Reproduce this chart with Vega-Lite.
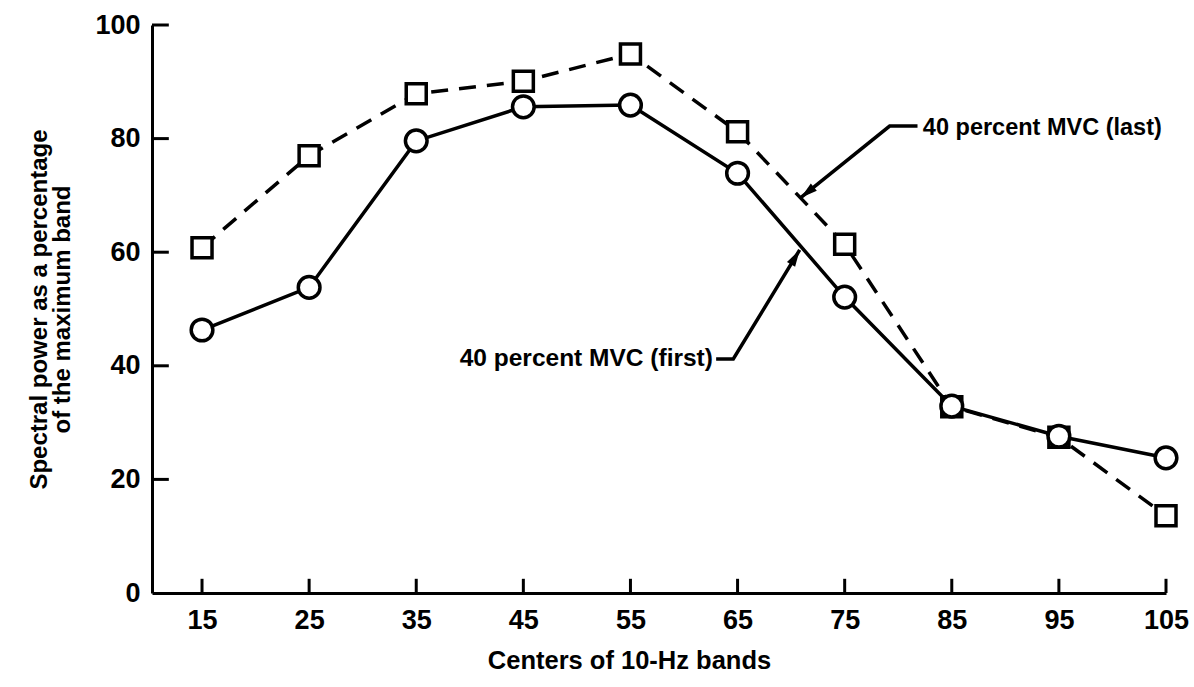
{
  "$schema": "https://vega.github.io/schema/vega-lite/v6.json",
  "width": 1014,
  "height": 568,
  "autosize": {"type": "none"},
  "padding": {"left": 152, "top": 25, "right": 28, "bottom": 94},
  "background": "white",
  "config": {
    "view": {"stroke": null},
    "font": "Liberation Sans",
    "axis": {
      "domainColor": "black",
      "domainWidth": 3,
      "ticks": false,
      "tickSize": 0,
      "grid": false,
      "labelColor": "black",
      "labelFont": "Liberation Sans",
      "labelFontWeight": "bold",
      "labelFontSize": 27,
      "titleColor": "black",
      "titleFont": "Liberation Sans",
      "titleFontWeight": "bold"
    }
  },
  "datasets": {
    "spectra": [
      {"band": 15, "pct": 46.3, "run": "first"},
      {"band": 25, "pct": 53.8, "run": "first"},
      {"band": 35, "pct": 79.6, "run": "first"},
      {"band": 45, "pct": 85.6, "run": "first"},
      {"band": 55, "pct": 85.9, "run": "first"},
      {"band": 65, "pct": 73.9, "run": "first"},
      {"band": 75, "pct": 52.1, "run": "first"},
      {"band": 85, "pct": 32.9, "run": "first"},
      {"band": 95, "pct": 27.6, "run": "first"},
      {"band": 105, "pct": 23.8, "run": "first"},
      {"band": 15, "pct": 60.8, "run": "last"},
      {"band": 25, "pct": 77.0, "run": "last"},
      {"band": 35, "pct": 87.9, "run": "last"},
      {"band": 45, "pct": 90.1, "run": "last"},
      {"band": 55, "pct": 94.9, "run": "last"},
      {"band": 65, "pct": 81.2, "run": "last"},
      {"band": 75, "pct": 61.4, "run": "last"},
      {"band": 85, "pct": 32.8, "run": "last"},
      {"band": 95, "pct": 27.4, "run": "last"},
      {"band": 105, "pct": 13.6, "run": "last"}
    ],
    "xticks": [
      {"band": 15, "pct": 0}, {"band": 25, "pct": 0}, {"band": 35, "pct": 0},
      {"band": 45, "pct": 0}, {"band": 55, "pct": 0}, {"band": 65, "pct": 0},
      {"band": 75, "pct": 0}, {"band": 85, "pct": 0}, {"band": 95, "pct": 0},
      {"band": 105, "pct": 0}
    ],
    "yticks": [
      {"band": 10.33, "pct": 20}, {"band": 10.33, "pct": 40}, {"band": 10.33, "pct": 60},
      {"band": 10.33, "pct": 80}, {"band": 10.33, "pct": 100}
    ],
    "leaders": [
      {"run": "last", "step": 1, "band": 81.8, "pct": 82.2},
      {"run": "last", "step": 2, "band": 79.2, "pct": 82.2},
      {"run": "last", "step": 3, "band": 70.9, "pct": 69.6},
      {"run": "first", "step": 1, "band": 63.0, "pct": 41.2},
      {"run": "first", "step": 2, "band": 64.6, "pct": 41.2},
      {"run": "first", "step": 3, "band": 70.8, "pct": 60.4}
    ],
    "tips": [
      {"run": "last", "band": 70.9, "pct": 69.6},
      {"run": "first", "band": 70.8, "pct": 60.4}
    ],
    "labels": [
      {"run": "last", "band": 82.3, "pct": 81.8, "text": "40 percent MVC (last)"},
      {"run": "first", "band": 62.7, "pct": 41.2, "text": "40 percent MVC (first)"}
    ]
  },
  "encoding": {
    "x": {
      "field": "band",
      "type": "quantitative",
      "scale": {"domain": [10.33, 105], "nice": false, "zero": false},
      "axis": {
        "title": "Centers of 10-Hz bands",
        "values": [15, 25, 35, 45, 55, 65, 75, 85, 95, 105],
        "labelPadding": 14,
        "labelFlush": false,
        "titleFontSize": 25.5,
        "titlePadding": 15,
        "titleX": 477,
        "titleAnchor": null
      }
    },
    "y": {
      "field": "pct",
      "type": "quantitative",
      "scale": {"domain": [0, 100], "nice": false},
      "axis": {
        "title": ["Spectral power as a percentage", "of the maximum band"],
        "values": [0, 20, 40, 60, 80, 100],
        "labelPadding": 12,
        "labelFlush": false,
        "titleFontSize": 24,
        "titleLineHeight": 23,
        "titlePadding": 20
      }
    }
  },
  "layer": [
    {
      "data": {"name": "xticks"},
      "mark": {"type": "rule", "color": "black", "strokeWidth": 3},
      "encoding": {"y2": {"datum": 2.5}}
    },
    {
      "data": {"name": "yticks"},
      "mark": {"type": "rule", "color": "black", "strokeWidth": 3},
      "encoding": {"x2": {"datum": 11.9}}
    },
    {
      "data": {"name": "spectra"},
      "transform": [{"filter": "datum.run === 'last'"}],
      "mark": {"type": "line", "color": "black", "strokeWidth": 3.5, "strokeDash": [17, 11], "strokeCap": "butt"}
    },
    {
      "data": {"name": "spectra"},
      "transform": [{"filter": "datum.run === 'first'"}],
      "mark": {"type": "line", "color": "black", "strokeWidth": 3.5}
    },
    {
      "data": {"name": "spectra"},
      "transform": [{"filter": "datum.run === 'last'"}],
      "mark": {"type": "point", "shape": "square", "size": 400, "filled": true, "fill": "white", "stroke": "black", "strokeWidth": 3.5, "opacity": 1}
    },
    {
      "data": {"name": "spectra"},
      "transform": [{"filter": "datum.run === 'first'"}],
      "mark": {"type": "point", "shape": "circle", "size": 470, "filled": true, "fill": "white", "stroke": "black", "strokeWidth": 3.5, "opacity": 1}
    },
    {
      "data": {"name": "leaders"},
      "mark": {"type": "line", "color": "black", "strokeWidth": 3.5},
      "encoding": {
        "detail": {"field": "run"},
        "order": {"field": "step", "type": "quantitative"}
      }
    },
    {
      "data": {"name": "tips"},
      "transform": [{"filter": "datum.run === 'last'"}],
      "mark": {"type": "point", "shape": "M0,0L-0.34,1.2L0.34,1.2Z", "size": 784, "filled": true, "color": "black", "opacity": 1, "angle": 231}
    },
    {
      "data": {"name": "tips"},
      "transform": [{"filter": "datum.run === 'first'"}],
      "mark": {"type": "point", "shape": "M0,0L-0.34,1.2L0.34,1.2Z", "size": 784, "filled": true, "color": "black", "opacity": 1, "angle": 31}
    },
    {
      "data": {"name": "labels"},
      "transform": [{"filter": "datum.run === 'last'"}],
      "mark": {"type": "text", "align": "left", "baseline": "middle", "fontSize": 23.5, "fontWeight": "bold", "color": "black"},
      "encoding": {"text": {"field": "text"}}
    },
    {
      "data": {"name": "labels"},
      "transform": [{"filter": "datum.run === 'first'"}],
      "mark": {"type": "text", "align": "right", "baseline": "middle", "fontSize": 24.5, "fontWeight": "bold", "color": "black"},
      "encoding": {"text": {"field": "text"}}
    }
  ]
}
